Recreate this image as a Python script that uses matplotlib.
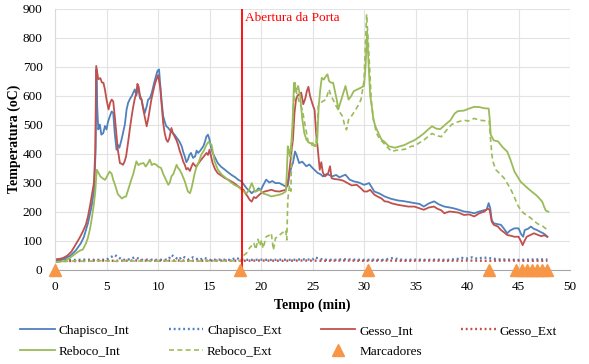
import numpy as np
import matplotlib
matplotlib.use('Agg')
import matplotlib.pyplot as plt

plt.rcParams['font.family'] = ['Liberation Serif', 'DejaVu Serif']

# Chapisco_Int (blue)
chap_int_t = [0, 0.5, 1.0, 1.5, 2.0, 2.5, 2.8, 3.2, 3.55, 3.8, 3.95, 4.02, 4.1, 4.2, 4.35, 4.5, 4.68, 4.85, 5.0, 5.15,
              5.33, 5.5, 5.65, 5.8, 5.97, 6.1, 6.25, 6.46, 6.6, 6.78, 6.95, 7.1, 7.3, 7.45, 7.6, 7.75, 7.9, 8.07, 8.25, 8.4,
              8.55, 8.72, 8.9, 9.04, 9.2, 9.4, 9.6, 9.8, 9.95, 10.1, 10.2, 10.35, 10.5, 10.65, 10.8, 10.95, 11.1, 11.3, 11.6, 11.95,
              12.1, 12.3, 12.45, 12.6, 12.75, 12.9, 13.05, 13.2, 13.4, 13.6, 13.75, 13.9, 14.1, 14.4, 14.55, 14.7, 14.85, 15.0, 15.15, 15.3,
              15.55, 15.8, 16.1, 16.5, 16.8, 17.1, 17.5, 17.8, 18.1, 18.35, 18.6, 18.85, 19.1, 19.3, 19.5, 19.75, 20.0, 20.2, 20.5, 20.8,
              21.1, 21.4, 21.8, 22.1, 22.4, 22.6, 22.8, 23.0, 23.1, 23.3, 23.45, 23.7, 24.0, 24.4, 24.7, 25.0, 25.3, 25.5, 25.8, 26.0,
              26.4, 26.9, 27.3, 27.6, 28.2, 28.6, 29.0, 29.5, 30.0, 30.5, 31.0, 31.5, 32.0, 32.6, 33.3, 33.8, 34.4, 34.9, 35.4, 35.8,
              36.3, 36.8, 37.3, 37.8, 38.3, 38.7, 39.2, 39.7, 40.2, 40.7, 41.2, 41.6, 41.9, 42.1, 42.25, 42.4, 42.6, 43.0, 43.3, 43.6,
              43.9, 44.2, 44.6, 45.0, 45.25, 45.45, 45.6, 45.9, 46.2, 46.5, 46.8, 47.1, 47.4, 47.6, 47.8]
chap_int = [30, 32, 38, 48, 65, 90, 112, 160, 218, 275, 420, 690, 560, 483, 500, 465, 470, 495, 483, 510,
            529, 545, 540, 470, 413, 430, 420, 448, 470, 500, 552, 575, 590, 598, 610, 621, 600, 632, 590, 586,
            560, 540, 563, 586, 590, 610, 640, 667, 685, 690, 644, 580, 529, 510, 494, 490, 483, 475, 465, 448,
            440, 425, 405, 390, 370, 379, 395, 402, 385, 390, 410, 402, 410, 425, 440, 459, 465, 448, 420, 402,
            385, 367, 355, 344, 335, 327, 318, 309, 304, 292, 280, 272, 263, 270, 269, 280, 275, 290, 310, 300,
            305, 298, 298, 292, 286, 290, 333, 360, 367, 407, 395, 367, 372, 356, 362, 350, 340, 333, 328, 321,
            330, 321, 326, 318, 327, 310, 304, 300, 292, 298, 269, 262, 252, 244, 238, 236, 232, 229, 226, 217,
            228, 235, 224, 217, 214, 211, 206, 200, 198, 194, 200, 204, 206, 229, 212, 170, 159, 156, 154, 140,
            125, 135, 142, 142, 122, 113, 136, 140, 148, 140, 136, 130, 125, 120, 113]

# Gesso_Int (red)
gesso_int_t = [0, 0.5, 0.8, 1.2, 1.6, 2.1, 2.4, 2.7, 3.0, 3.2, 3.4, 3.55, 3.78, 3.9, 4.0, 4.1, 4.2, 4.4, 4.55, 4.7,
               4.85, 5.0, 5.2, 5.35, 5.5, 5.65, 5.8, 5.95, 6.1, 6.3, 6.45, 6.6, 6.75, 6.9, 7.1, 7.3, 7.45, 7.6, 7.75, 7.9,
               8.0, 8.1, 8.25, 8.4, 8.55, 8.7, 8.9, 9.05, 9.2, 9.35, 9.5, 9.7, 9.85, 10.0, 10.2, 10.35, 10.5, 10.65, 10.8, 10.95,
               11.1, 11.3, 11.45, 11.6, 11.8, 11.95, 12.1, 12.3, 12.45, 12.6, 12.75, 12.9, 13.1, 13.25, 13.4, 13.55, 13.7, 13.9, 14.05, 14.2,
               14.45, 14.7, 14.85, 15.0, 15.15, 15.3, 15.55, 15.8, 16.1, 16.5, 16.8, 17.1, 17.5, 17.8, 18.05, 18.3, 18.5, 18.7, 18.9, 19.1,
               19.3, 19.5, 19.75, 20.0, 20.35, 20.7, 21.0, 21.4, 21.8, 22.1, 22.4, 22.6, 22.8, 23.0, 23.1, 23.25, 23.4, 23.55, 23.7, 23.9,
               24.1, 24.3, 24.45, 24.6, 24.75, 25.0, 25.2, 25.35, 25.5, 25.7, 25.85, 26.0, 26.2, 26.5, 26.7, 26.85, 27.1, 27.6, 28.0, 28.4,
               28.8, 29.3, 29.7, 30.0, 30.3, 30.6, 31.0, 31.3, 31.7, 32.0, 32.3, 32.7, 33.3, 33.8, 34.3, 34.9, 35.3, 35.8, 36.3, 36.8,
               37.1, 37.5, 37.8, 38.3, 38.8, 39.2, 39.7, 40.2, 40.7, 41.2, 41.7, 42.0, 42.2, 42.4, 42.6, 43.0, 43.3, 43.6, 43.9, 44.3,
               44.6, 45.0, 45.2, 45.4, 45.6, 45.8, 46.1, 46.5, 46.9, 47.2, 47.5, 47.8]
gesso_int = [35, 37, 40, 48, 62, 92, 110, 131, 155, 183, 220, 252, 299, 400, 702, 680, 656, 660, 645, 644,
             620, 586, 552, 575, 586, 580, 529, 470, 413, 367, 365, 361, 372, 390, 440, 494, 530, 563, 590, 610,
             640, 632, 600, 586, 555, 529, 494, 520, 552, 585, 610, 640, 656, 670, 632, 570, 506, 470, 448, 440,
             453, 488, 470, 459, 445, 430, 410, 390, 372, 361, 345, 350, 340, 355, 367, 360, 355, 365, 372, 379,
             390, 402, 395, 413, 390, 367, 345, 332, 325, 315, 310, 304, 295, 286, 280, 275, 262, 252, 240, 234,
             250, 246, 255, 263, 269, 272, 275, 270, 269, 272, 275, 300, 356, 420, 448, 540, 587, 600, 604, 610,
             570, 590, 615, 630, 600, 570, 550, 470, 420, 344, 370, 335, 321, 330, 356, 315, 312, 310, 306, 298,
             290, 292, 280, 269, 269, 275, 258, 252, 245, 235, 234, 228, 223, 220, 217, 217, 212, 206, 214, 217,
             210, 204, 194, 200, 198, 196, 188, 190, 183, 194, 200, 211, 205, 165, 154, 148, 136, 128, 119, 116,
             113, 113, 100, 84, 100, 113, 118, 125, 119, 115, 118, 113]

# Reboco_Int (green solid)
reboco_int_t = [0, 0.5, 1.0, 1.45, 2.0, 2.4, 2.7, 3.0, 3.2, 3.4, 3.55, 3.75, 3.9, 4.0, 4.05, 4.2, 4.4, 4.6, 4.85, 5.0,
                5.3, 5.5, 5.65, 5.8, 5.97, 6.1, 6.3, 6.5, 6.7, 6.9, 7.1, 7.4, 7.6, 7.9, 8.1, 8.3, 8.6, 8.8, 9.0, 9.2,
                9.4, 9.6, 9.85, 10.0, 10.3, 10.5, 10.7, 11.0, 11.15, 11.3, 11.5, 11.8, 11.95, 12.1, 12.3, 12.6, 12.9, 13.1, 13.25, 13.4,
                13.55, 13.7, 13.95, 14.2, 14.45, 14.7, 14.9, 15.05, 15.2, 15.35, 15.5, 15.8, 16.2, 16.5, 16.8, 17.1, 17.4, 17.8, 18.1, 18.35,
                18.6, 18.85, 19.1, 19.25, 19.4, 19.7, 19.9, 20.2, 20.6, 21.0, 21.4, 21.8, 22.1, 22.4, 22.5, 22.6, 22.7, 22.8, 22.95, 23.05,
                23.2, 23.4, 23.6, 23.8, 24.0, 24.2, 24.4, 24.7, 25.0, 25.3, 25.45, 25.6, 25.75, 25.9, 26.1, 26.3, 26.45, 26.6, 26.8, 27.0,
                27.2, 27.35, 27.5, 27.7, 27.9, 28.2, 28.35, 28.5, 28.75, 29.0, 29.3, 29.7, 30.0, 30.15, 30.3, 30.45, 30.6, 30.75, 30.9, 31.1,
                31.4, 31.7, 32.0, 32.4, 33.0, 33.5, 33.9, 34.4, 34.9, 35.4, 35.8, 36.2, 36.6, 37.0, 37.4, 37.9, 38.4, 38.8, 39.1, 39.7,
                40.2, 40.7, 41.2, 41.7, 42.1, 42.2, 42.3, 42.6, 43.0, 43.5, 43.9, 44.2, 44.6, 45.0, 45.2, 45.6, 45.9, 46.3, 46.7, 47.0,
                47.3, 47.5, 47.65, 47.9]
reboco_int = [25, 27, 30, 40, 55, 65, 69, 90, 110, 140, 172, 220, 264, 320, 344, 335, 321, 315, 309, 318,
              338, 330, 309, 295, 275, 260, 252, 245, 250, 252, 275, 309, 330, 373, 360, 365, 367, 355, 365, 379,
              360, 365, 361, 355, 350, 330, 315, 292, 300, 321, 330, 361, 350, 344, 330, 304, 269, 263, 280, 304,
              330, 350, 370, 396, 410, 430, 440, 435, 430, 400, 372, 345, 327, 318, 309, 300, 292, 285, 275, 268,
              263, 275, 298, 285, 269, 272, 275, 262, 258, 252, 255, 258, 262, 269, 330, 425, 410, 390, 440, 494,
              644, 615, 633, 598, 520, 471, 448, 436, 436, 425, 440, 563, 620, 661, 655, 667, 673, 650, 644, 644,
              610, 586, 552, 575, 598, 633, 610, 586, 598, 615, 620, 627, 633, 700, 822, 702, 600, 563, 520, 494,
              470, 448, 440, 425, 420, 425, 429, 438, 446, 458, 469, 482, 494, 486, 484, 500, 515, 538, 546, 548,
              555, 561, 560, 556, 555, 520, 465, 445, 442, 420, 407, 380, 338, 315, 303, 290, 280, 268, 257, 246,
              234, 215, 203, 199]

# Reboco_Ext (green dashed)
reboco_ext_t = [0, 1.0, 2.0, 3.0, 4.0, 5.0, 6.0, 7.0, 8.0, 9.0, 10.0, 11.0, 12.0, 13.0, 14.0, 15.0, 16.0, 17.0, 18.0, 18.3,
                18.6, 18.9, 19.1, 19.3, 19.5, 19.7, 19.9, 20.05, 20.2, 20.5, 20.8, 21.0, 21.2, 21.4, 21.7, 22.0, 22.2, 22.4, 22.5, 22.6,
                22.75, 22.9, 23.0, 23.15, 23.3, 23.5, 23.7, 24.0, 24.3, 24.6, 24.9, 25.3, 25.45, 25.55, 25.8, 26.0, 26.3, 26.6, 26.8, 27.0,
                27.3, 27.6, 27.9, 28.1, 28.3, 28.5, 28.8, 29.2, 29.5, 29.7, 30.0, 30.25, 30.45, 30.7, 30.9, 31.2, 31.5, 31.9, 32.3, 32.7,
                33.1, 33.6, 34.0, 34.6, 34.9, 35.6, 35.8, 36.2, 36.6, 37.0, 37.5, 38.0, 38.5, 39.1, 39.7, 40.1, 40.7, 41.2, 41.7, 42.15,
                42.25, 42.4, 42.5, 42.8, 43.2, 43.6, 44.2, 44.6, 44.9, 45.2, 45.5, 45.9, 46.2, 46.5, 46.8, 47.1, 47.4, 47.6, 47.9]
reboco_ext = [25, 28, 30, 28, 30, 30, 28, 30, 29, 30, 29, 30, 28, 30, 29, 30, 29, 30, 30, 48,
              57, 75, 82, 92, 69, 104, 81, 102, 73, 113, 118, 125, 67, 108, 115, 125, 130, 136, 102, 240,
              287, 270, 448, 560, 644, 600, 580, 552, 494, 436, 430, 425, 480, 563, 575, 580, 586, 621, 598, 586,
              563, 545, 529, 500, 482, 517, 530, 552, 570, 586, 650, 880, 760, 586, 520, 471, 451, 436, 420, 407,
              411, 413, 415, 425, 426, 442, 446, 458, 469, 462, 458, 480, 500, 509, 515, 512, 521, 515, 513, 513,
              465, 400, 373, 344, 330, 315, 280, 250, 223, 206, 194, 185, 177, 168, 159, 153, 148, 142, 135]

# Chapisco_Ext (blue dotted)
chap_ext_t = [0, 1, 2, 3, 4, 5, 5.8, 6.5, 7, 7.75, 8.5, 9, 10, 11, 11.3, 12, 12.4, 13, 13.4, 14,
              14.5, 15, 16, 17, 17.6, 18, 19, 20, 21, 22, 23, 24, 25, 25.2, 26, 27, 28, 29, 30, 31,
              32, 32.8, 33.5, 34, 35, 36, 37, 38, 39, 39.5, 40, 40.5, 41, 41.5, 42, 43, 44, 45, 46, 47, 47.8]
chap_ext = [30, 32, 33, 34, 33, 34, 50, 34, 33, 42, 33, 34, 33, 34, 50, 34, 45, 34, 42, 33,
            40, 33, 34, 33, 40, 34, 33, 34, 33, 34, 33, 35, 34, 42, 34, 33, 35, 34, 33, 34,
            33, 40, 34, 33, 34, 33, 34, 33, 36, 40, 38, 42, 37, 41, 40, 35, 34, 33, 34, 35, 34]

# Gesso_Ext (red dotted)
gesso_ext_t = [0, 2, 4, 6, 8, 10, 12, 14, 16, 18, 20, 22, 24, 26, 28, 30, 32, 34, 36, 38, 40, 42, 44, 46, 47.8]
gesso_ext = [30, 29, 31, 30, 31, 30, 31, 30, 31, 30, 31, 30, 31, 30, 31, 30, 31, 30, 31, 30, 31, 30, 31, 30, 30]

# Marcadores
marc_t = [0, 18.0, 30.4, 42.15, 44.8, 45.3, 45.8, 46.3, 46.8, 47.3, 47.8]
marc = [0] * len(marc_t)

porta_t = 18.2

blue = '#4F81BD'
red = '#C0504D'
green = '#9BBB59'
orange = '#F79646'

fig = plt.figure(figsize=(5.89, 3.64), dpi=100)
ax = fig.add_axes([0.0934, 0.2596, 0.8744, 0.717])

ax.plot(chap_int_t, chap_int, color=blue, lw=1.3, label='Chapisco_Int')
ax.plot(chap_ext_t, chap_ext, color=blue, lw=1.7, ls=(0, (0.8, 1.2)), label='Chapisco_Ext')
ax.plot(gesso_int_t, gesso_int, color=red, lw=1.3, label='Gesso_Int')
ax.plot(gesso_ext_t, gesso_ext, color=red, lw=1.7, ls=(0, (0.8, 1.2)), label='Gesso_Ext')
ax.plot(reboco_int_t, reboco_int, color=green, lw=1.3, label='Reboco_Int')
ax.plot(reboco_ext_t, reboco_ext, color=green, lw=1.2, ls=(0, (3, 2)), label='Reboco_Ext')

ax.axvline(porta_t, color='#FF0000', lw=1.3, zorder=5)
ax.text(porta_t + 0.2, 867, 'Abertura da Porta', color='#FF0000', fontsize=9.5, va='center', ha='left')

ax.plot(marc_t, marc, ls='none', marker='^', ms=9, color=orange, mec=orange, clip_on=False, zorder=6,
        label='Marcadores')

ax.set_xlim(0, 50)
ax.set_ylim(0, 900)
ax.set_xticks(np.arange(0, 51, 5))
ax.set_yticks(np.arange(0, 901, 100))
ax.tick_params(axis='both', length=0, labelsize=9.5)
ax.tick_params(axis='y', pad=9)
ax.tick_params(axis='x', pad=8)

ax.grid(True, color='#E3E3E3', lw=0.8)
ax.set_axisbelow(True)
for s in ['top', 'right']:
    ax.spines[s].set_visible(False)
ax.spines['left'].set_color('#D9D9D9')
ax.spines['bottom'].set_color('#A6A6A6')

ax.set_xlabel('Tempo (min)', fontsize=10, fontweight='bold', labelpad=4)
ax.set_ylabel('Temperatura (oC)', fontsize=10, fontweight='bold', labelpad=1)

h, l = ax.get_legend_handles_labels()
d = dict(zip(l, h))
order = ['Chapisco_Int', 'Reboco_Int', 'Chapisco_Ext', 'Reboco_Ext', 'Gesso_Int', 'Marcadores', 'Gesso_Ext']
fig.legend([d[k] for k in order], order, ncol=4, loc='center', bbox_to_anchor=(0.49, 0.063),
           frameon=False, fontsize=9.5, handlelength=2.6, handletextpad=0.3, columnspacing=3.0,
           labelspacing=0.65)

plt.savefig('out.png', dpi=100)
